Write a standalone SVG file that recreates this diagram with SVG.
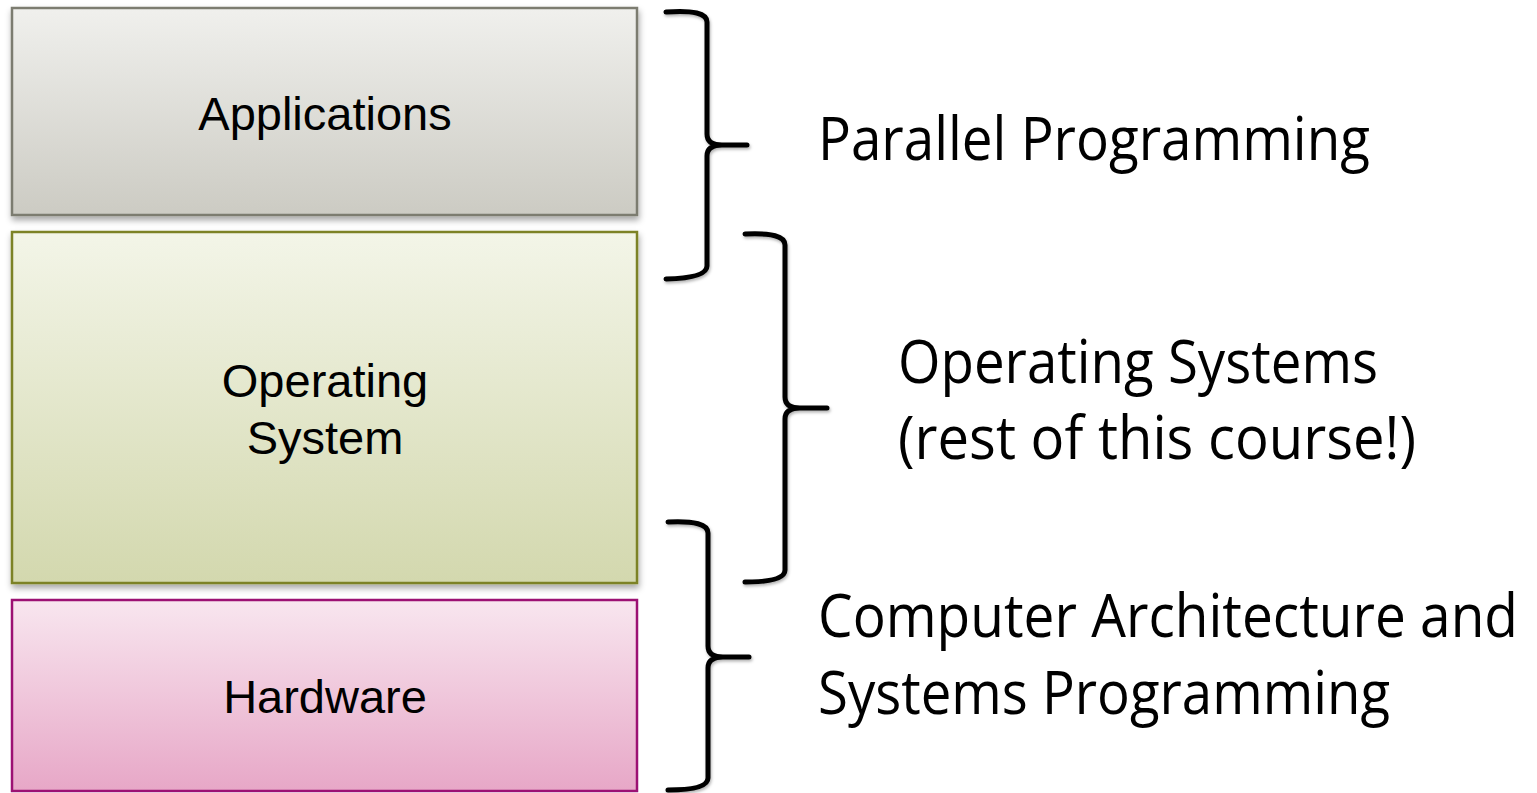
<svg xmlns="http://www.w3.org/2000/svg" width="1537" height="793" viewBox="0 0 1537 793">
  <defs>
    <linearGradient id="gApp" x1="0" y1="0" x2="0" y2="1">
      <stop offset="0" stop-color="#f0f0ed"/>
      <stop offset="1" stop-color="#cccbc3"/>
    </linearGradient>
    <linearGradient id="gOS" x1="0" y1="0" x2="0" y2="1">
      <stop offset="0" stop-color="#f3f5e8"/>
      <stop offset="1" stop-color="#d3d8ae"/>
    </linearGradient>
    <linearGradient id="gHW" x1="0" y1="0" x2="0" y2="1">
      <stop offset="0" stop-color="#f8e6ef"/>
      <stop offset="1" stop-color="#e7a7c7"/>
    </linearGradient>
    <filter id="shadow" x="-10%" y="-10%" width="120%" height="130%">
      <feDropShadow dx="1" dy="4" stdDeviation="3" flood-color="#000" flood-opacity="0.35"/>
    </filter>
    <filter id="bshadow" x="-20%" y="-10%" width="140%" height="120%">
      <feDropShadow dx="1" dy="2" stdDeviation="1.5" flood-color="#000" flood-opacity="0.3"/>
    </filter>
  </defs>
  <style>
    .box { stroke-width: 2.5; }
    .boxlabel { font-family: "Liberation Sans", Arial, sans-serif; font-size: 47px; fill: #000; text-anchor: middle; }
    .label { font-family: "Open Sans", "Noto Sans", sans-serif; font-size: 60px; fill: #000; }
    .brace { fill: none; stroke: #000; stroke-width: 5; stroke-linecap: round; stroke-linejoin: round; }
  </style>
  <rect width="1537" height="793" fill="#ffffff"/>

  <g id="applications">
    <rect class="box" x="12" y="8" width="625" height="207" fill="url(#gApp)" stroke="#7b7b70" filter="url(#shadow)"/>
    <text class="boxlabel" x="325" y="130">Applications</text>
  </g>
  <g id="operating-system">
    <rect class="box" x="12" y="232" width="625" height="351" fill="url(#gOS)" stroke="#7b8226" filter="url(#shadow)"/>
    <text class="boxlabel" x="325" y="397">Operating</text>
    <text class="boxlabel" x="325" y="454">System</text>
  </g>
  <g id="hardware">
    <rect class="box" x="12" y="600" width="625" height="191" fill="url(#gHW)" stroke="#9c1173"/>
    <text class="boxlabel" x="325" y="713">Hardware</text>
  </g>

  <g id="connectors" filter="url(#bshadow)">
    <path class="brace" d="M666,12 Q707,9 707,22 L707,134 Q707,145 722,145 L747,145 M722,145 Q707,145 707,156 L707,266 Q707,278 666,279"/>
    <path class="brace" d="M745,234 Q785,232 785,245 L785,397 Q785,408 800,408 L827,408 M800,408 Q785,408 785,419 L785,570 Q785,582 745,582"/>
    <path class="brace" d="M668,522 Q708,520 708,533 L708,646 Q708,657 723,657 L749,657 M723,657 Q708,657 708,668 L708,778 Q708,790 668,790"/>
  </g>

  <g id="label-parallel">
    <text class="label" x="818" y="160" textLength="552" lengthAdjust="spacingAndGlyphs">Parallel Programming</text>
  </g>
  <g id="label-os">
    <text class="label" x="898" y="383" textLength="480" lengthAdjust="spacingAndGlyphs">Operating Systems</text>
    <text class="label" x="898" y="459" textLength="518" lengthAdjust="spacingAndGlyphs">(rest of this course!)</text>
  </g>
  <g id="label-arch">
    <text class="label" x="818" y="637" textLength="700" lengthAdjust="spacingAndGlyphs">Computer Architecture and</text>
    <text class="label" x="818" y="714" textLength="572" lengthAdjust="spacingAndGlyphs">Systems Programming</text>
  </g>
</svg>
